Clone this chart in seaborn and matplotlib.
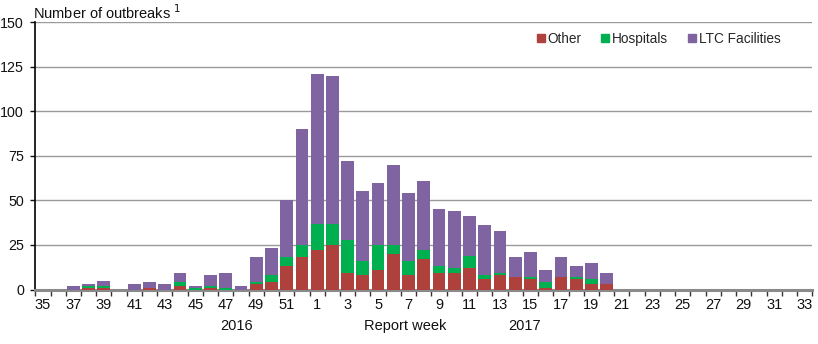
import numpy as np
import pandas as pd
import matplotlib
matplotlib.use("Agg")
import matplotlib.pyplot as plt
import seaborn as sns
from matplotlib.lines import Line2D

weeks = list(range(35, 53)) + list(range(1, 34))
other = [0, 0, 0, 1, 1, 0, 0, 1, 0, 2, 0, 1, 0, 0, 3, 4, 13, 18,
         22, 25, 9, 8, 11, 20, 8, 17, 9, 9, 12, 6, 8, 7, 6, 1, 7, 6, 3, 3,
         0, 0, 0, 0, 0, 0, 0, 0, 0, 0, 0, 0, 0]
hospitals = [0, 0, 0, 1, 1, 0, 0, 0, 0, 2, 1, 1, 1, 0, 1, 4, 5, 7,
             15, 12, 19, 8, 14, 5, 8, 5, 4, 3, 7, 2, 1, 0, 1, 3, 0, 1, 3, 0,
             0, 0, 0, 0, 0, 0, 0, 0, 0, 0, 0, 0, 0]
ltc = [0, 0, 2, 1, 3, 0, 3, 3, 3, 5, 1, 6, 8, 2, 14, 15, 32, 65,
       84, 83, 44, 39, 35, 45, 38, 39, 32, 32, 22, 28, 24, 11, 14, 7, 11, 6, 9, 6,
       0, 0, 0, 0, 0, 0, 0, 0, 0, 0, 0, 0, 0]
series_names = ["Other", "Hospitals", "LTC Facilities"]
colors = ["#AE413C", "#00B050", "#8064A2"]

df = pd.DataFrame({"week": [str(w) for w in weeks], "Other": other,
                   "Hospitals": hospitals, "LTC Facilities": ltc})
df["c1"] = df["Other"]
df["c2"] = df["Other"] + df["Hospitals"]
df["c3"] = df["c2"] + df["LTC Facilities"]
order = df["week"].tolist()
n = len(order)

sns.set_style("white")
plt.rcParams["font.family"] = ["Liberation Sans", "DejaVu Sans"]

fig = plt.figure(figsize=(8.18, 3.44), dpi=100)
ax = fig.add_axes([35.3 / 818, 1 - 289.5 / 344, (812.3 - 35.3) / 818, (289.5 - 22) / 344])

for col, c in zip(["c3", "c2", "c1"], [colors[2], colors[1], colors[0]]):
    sns.barplot(data=df, x="week", y=col, order=order, color=c, width=0.84,
                saturation=1, ax=ax, edgecolor="none", linewidth=0, zorder=3)

ax.set_ylim(0, 150)
ax.set_xlim(-0.5, n - 0.5)
ax.set_yticks(np.arange(0, 151, 25))
ax.set_yticklabels([str(v) for v in range(0, 151, 25)], fontsize=10.3, color="#111111")
for v in range(25, 151, 25):
    ax.axhline(v, color="#9a9a9a", lw=1.0, zorder=1)

ax.set_xticks(np.arange(-0.5, n, 1))
ax.set_xticklabels([])
ax.set_xticks(np.arange(0, n, 2), minor=True)
ax.set_xticklabels([weeks[i] for i in range(0, n, 2)], minor=True, fontsize=10.5, color="#111111")
ax.tick_params(axis="x", which="major", direction="out", length=4, width=1, color="#333333", bottom=True)
ax.tick_params(axis="x", which="minor", length=0, pad=6)
ax.tick_params(axis="y", direction="out", length=3.6, width=1, color="#111111", left=True, pad=4.5)

ax.set_xlabel("")
ax.set_ylabel("")
for s in ["top", "right"]:
    ax.spines[s].set_visible(False)
ax.spines["left"].set_color("#000000")
ax.spines["left"].set_linewidth(1.2)
ax.spines["bottom"].set_color("#8a8a8a")
ax.spines["bottom"].set_linewidth(2.2)

fig.text(33 / 818, 1 - 13 / 344, "Number of outbreaks $^{1}$", fontsize=10.5, va="center", ha="left", color="#111111")
fig.text(237 / 818, 1 - 326 / 344, "2016", fontsize=10.5, ha="center", va="center", color="#111111")
fig.text(405 / 818, 1 - 326 / 344, "Report week", fontsize=10.5, ha="center", va="center", color="#111111")
fig.text(525 / 818, 1 - 326 / 344, "2017", fontsize=10.5, ha="center", va="center", color="#111111")

handles = [Line2D([], [], marker="s", linestyle="none", markersize=5.5, markerfacecolor=c,
                  markeredgecolor=c) for c in colors]
ax.legend(handles, series_names, loc="center right", bbox_to_anchor=(786 / 818, 1 - 39 / 344),
          bbox_transform=fig.transFigure, ncol=3, frameon=False, fontsize=9.8,
          handlelength=0.5, handletextpad=0.25, columnspacing=1.5, borderaxespad=0)

fig.savefig("out.png", dpi=100)
